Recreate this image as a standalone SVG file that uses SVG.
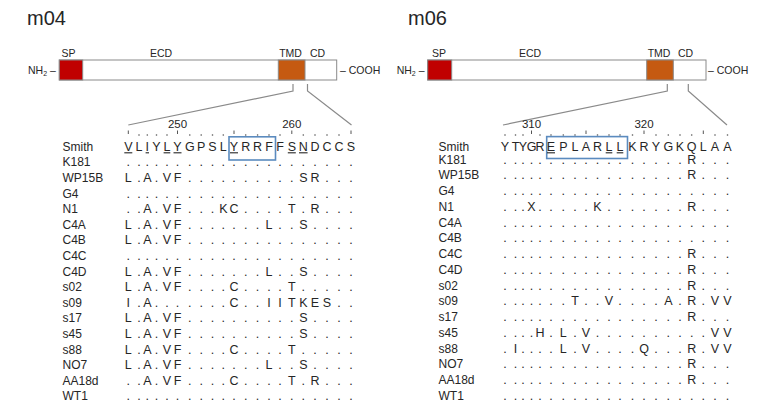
<svg xmlns="http://www.w3.org/2000/svg" width="760" height="412" viewBox="0 0 760 412">
<style>
.t{font-family:"Liberation Sans",Arial,sans-serif;fill:#262626}
.title{font-size:20px}
.dom{font-size:10.5px;text-anchor:middle}
.end{font-size:10.5px}
.lab{font-size:12px}
.num{font-size:11.5px;text-anchor:middle}
.seq{font-size:12.5px;text-anchor:middle}
.conn{stroke:#8a8a8a;stroke-width:1.2;fill:none}
.bar{fill:#ffffff;stroke:#8a8a8a;stroke-width:1}
.sp{fill:#c00000;stroke:#8a8a8a;stroke-width:1}
.tmd{fill:#c55a11;stroke:#8a8a8a;stroke-width:1}
.tick{stroke:#555555;stroke-width:1}
.rd{fill:#555555}
.ul{stroke:#262626;stroke-width:1.1}
.box{fill:none;stroke:#5b8bbf;stroke-width:1.6}
</style>
<rect width="760" height="412" fill="#ffffff"/>

<!-- ===== Panel m04 ===== -->
<g id="m04">
  <text class="t title" x="27" y="25">m04</text>
  <g id="m04-protein">
    <rect class="bar" x="59.3" y="60" width="277.4" height="20"/>
    <rect class="sp" x="59.3" y="60" width="23.4" height="20"/>
    <rect class="tmd" x="278.3" y="60" width="26.7" height="20"/>
    <text class="t dom" x="68.5" y="57">SP</text>
    <text class="t dom" x="161" y="57">ECD</text>
    <text class="t dom" x="290.5" y="57">TMD</text>
    <text class="t dom" x="317.5" y="57">CD</text>
    <text class="t end" x="28" y="74">NH<tspan font-size="7" dy="2">2</tspan><tspan dy="-2"> –</tspan></text>
    <text class="t end" x="340" y="74">– COOH</text>
  </g>
  <g id="m04-connectors">
    <polyline class="conn" points="293,84 293,91 128.3,125"/>
    <polyline class="conn" points="307.5,84 307.5,91 351.5,125"/>
  </g>
  <g id="m04-ruler">
    <text class="t num" x="177.5" y="128">250</text>
    <text class="t num" x="291.8" y="128">260</text>
    <g class="tick">
      <line x1="128.3" y1="130.5" x2="128.3" y2="134"/>
      <line x1="177.5" y1="130.5" x2="177.5" y2="134"/>
      <line x1="234" y1="130.5" x2="234" y2="134"/>
      <line x1="291.8" y1="130.5" x2="291.8" y2="134"/>
      <line x1="351" y1="130.5" x2="351" y2="134"/>
    </g>
    <g class="rd">
      <circle cx="139" cy="135" r="0.8"/><circle cx="147.3" cy="135" r="0.8"/><circle cx="156.5" cy="135" r="0.8"/><circle cx="167" cy="135" r="0.8"/>
      <circle cx="189.8" cy="135" r="0.8"/><circle cx="201.2" cy="135" r="0.8"/><circle cx="212.5" cy="135" r="0.8"/><circle cx="223.3" cy="135" r="0.8"/>
      <circle cx="245.7" cy="135" r="0.8"/><circle cx="257.6" cy="135" r="0.8"/><circle cx="269" cy="135" r="0.8"/><circle cx="280" cy="135" r="0.8"/>
      <circle cx="303.3" cy="135" r="0.8"/><circle cx="315" cy="135" r="0.8"/><circle cx="327" cy="135" r="0.8"/><circle cx="339" cy="135" r="0.8"/>
    </g>
  </g>
  <g id="m04-alignment">
    <rect class="box" x="229" y="136.8" width="46.5" height="23.2"/>
    <g class="ul">
      <line x1="124.3" y1="152.8" x2="132.3" y2="152.8"/>
      <line x1="145.6" y1="152.8" x2="149" y2="152.8"/>
      <line x1="163.6" y1="152.8" x2="170.3" y2="152.8"/>
      <line x1="173.5" y1="152.8" x2="181.5" y2="152.8"/>
      <line x1="230" y1="152.8" x2="238" y2="152.8"/>
      <line x1="287.8" y1="152.8" x2="295.8" y2="152.8"/>
      <line x1="299" y1="152.8" x2="307.6" y2="152.8"/>
    </g>
    <g class="t lab">
      <text x="62.5" y="151">Smith</text>
      <text x="62.5" y="166.3">K181</text>
      <text x="62.5" y="181.9">WP15B</text>
      <text x="62.5" y="197.5">G4</text>
      <text x="62.5" y="213.1">N1</text>
      <text x="62.5" y="228.7">C4A</text>
      <text x="62.5" y="244.3">C4B</text>
      <text x="62.5" y="259.9">C4C</text>
      <text x="62.5" y="275.5">C4D</text>
      <text x="62.5" y="291.1">s02</text>
      <text x="62.5" y="306.7">s09</text>
      <text x="62.5" y="322.3">s17</text>
      <text x="62.5" y="337.9">s45</text>
      <text x="62.5" y="353.5">s88</text>
      <text x="62.5" y="369.1">NO7</text>
      <text x="62.5" y="384.7">AA18d</text>
      <text x="62.5" y="400.3">WT1</text>
    </g>
    <g class="t seq">
      <text y="151" x="128.3 133.7 139 143.2 147.3 151.9 156.5 161.8 167 172.3 177.5 183.7 189.8 195.5 201.2 206.9 212.5 217.9 223.3 228.7 234 239.9 245.7 251.7 257.6 263.3 269 274.5 280 285.9 291.8 297.6 303.3 309.2 315 321 327 333 339 345 351">V L I Y L Y G P S L Y R R F F S N D C C S</text>
      <text y="166.3" x="128.3 133.7 139 143.2 147.3 151.9 156.5 161.8 167 172.3 177.5 183.7 189.8 195.5 201.2 206.9 212.5 217.9 223.3 228.7 234 239.9 245.7 251.7 257.6 263.3 269 274.5 280 285.9 291.8 297.6 303.3 309.2 315 321 327 333 339 345 351">. . . . . . . . . . . . . . . . . . . . .</text>
      <text y="181.9" x="128.3 133.7 139 143.2 147.3 151.9 156.5 161.8 167 172.3 177.5 183.7 189.8 195.5 201.2 206.9 212.5 217.9 223.3 228.7 234 239.9 245.7 251.7 257.6 263.3 269 274.5 280 285.9 291.8 297.6 303.3 309.2 315 321 327 333 339 345 351">L . A . V F . . . . . . . . . . S R . . .</text>
      <text y="197.5" x="128.3 133.7 139 143.2 147.3 151.9 156.5 161.8 167 172.3 177.5 183.7 189.8 195.5 201.2 206.9 212.5 217.9 223.3 228.7 234 239.9 245.7 251.7 257.6 263.3 269 274.5 280 285.9 291.8 297.6 303.3 309.2 315 321 327 333 339 345 351">. . . . . . . . . . . . . . . . . . . . .</text>
      <text y="213.1" x="128.3 133.7 139 143.2 147.3 151.9 156.5 161.8 167 172.3 177.5 183.7 189.8 195.5 201.2 206.9 212.5 217.9 223.3 228.7 234 239.9 245.7 251.7 257.6 263.3 269 274.5 280 285.9 291.8 297.6 303.3 309.2 315 321 327 333 339 345 351">. . A . V F . . . K C . . . . T . R . . .</text>
      <text y="228.7" x="128.3 133.7 139 143.2 147.3 151.9 156.5 161.8 167 172.3 177.5 183.7 189.8 195.5 201.2 206.9 212.5 217.9 223.3 228.7 234 239.9 245.7 251.7 257.6 263.3 269 274.5 280 285.9 291.8 297.6 303.3 309.2 315 321 327 333 339 345 351">L . A . V F . . . . . . . L . . S . . . .</text>
      <text y="244.3" x="128.3 133.7 139 143.2 147.3 151.9 156.5 161.8 167 172.3 177.5 183.7 189.8 195.5 201.2 206.9 212.5 217.9 223.3 228.7 234 239.9 245.7 251.7 257.6 263.3 269 274.5 280 285.9 291.8 297.6 303.3 309.2 315 321 327 333 339 345 351">L . A . V F . . . . . . . . . . . . . . .</text>
      <text y="259.9" x="128.3 133.7 139 143.2 147.3 151.9 156.5 161.8 167 172.3 177.5 183.7 189.8 195.5 201.2 206.9 212.5 217.9 223.3 228.7 234 239.9 245.7 251.7 257.6 263.3 269 274.5 280 285.9 291.8 297.6 303.3 309.2 315 321 327 333 339 345 351">. . . . . . . . . . . . . . . . . . . . .</text>
      <text y="275.5" x="128.3 133.7 139 143.2 147.3 151.9 156.5 161.8 167 172.3 177.5 183.7 189.8 195.5 201.2 206.9 212.5 217.9 223.3 228.7 234 239.9 245.7 251.7 257.6 263.3 269 274.5 280 285.9 291.8 297.6 303.3 309.2 315 321 327 333 339 345 351">L . A . V F . . . . . . . L . . S . . . .</text>
      <text y="291.1" x="128.3 133.7 139 143.2 147.3 151.9 156.5 161.8 167 172.3 177.5 183.7 189.8 195.5 201.2 206.9 212.5 217.9 223.3 228.7 234 239.9 245.7 251.7 257.6 263.3 269 274.5 280 285.9 291.8 297.6 303.3 309.2 315 321 327 333 339 345 351">L . A . V F . . . . C . . . . T . . . . .</text>
      <text y="306.7" x="128.3 133.7 139 143.2 147.3 151.9 156.5 161.8 167 172.3 177.5 183.7 189.8 195.5 201.2 206.9 212.5 217.9 223.3 228.7 234 239.9 245.7 251.7 257.6 263.3 269 274.5 280 285.9 291.8 297.6 303.3 309.2 315 321 327 333 339 345 351">I . A . . . . . . . C . . I I T K E S . .</text>
      <text y="322.3" x="128.3 133.7 139 143.2 147.3 151.9 156.5 161.8 167 172.3 177.5 183.7 189.8 195.5 201.2 206.9 212.5 217.9 223.3 228.7 234 239.9 245.7 251.7 257.6 263.3 269 274.5 280 285.9 291.8 297.6 303.3 309.2 315 321 327 333 339 345 351">L . A . V F . . . . . . . . . . S . . . .</text>
      <text y="337.9" x="128.3 133.7 139 143.2 147.3 151.9 156.5 161.8 167 172.3 177.5 183.7 189.8 195.5 201.2 206.9 212.5 217.9 223.3 228.7 234 239.9 245.7 251.7 257.6 263.3 269 274.5 280 285.9 291.8 297.6 303.3 309.2 315 321 327 333 339 345 351">L . A . V F . . . . . . . . . . S . . . .</text>
      <text y="353.5" x="128.3 133.7 139 143.2 147.3 151.9 156.5 161.8 167 172.3 177.5 183.7 189.8 195.5 201.2 206.9 212.5 217.9 223.3 228.7 234 239.9 245.7 251.7 257.6 263.3 269 274.5 280 285.9 291.8 297.6 303.3 309.2 315 321 327 333 339 345 351">L . A . V F . . . . C . . . . T . . . . .</text>
      <text y="369.1" x="128.3 133.7 139 143.2 147.3 151.9 156.5 161.8 167 172.3 177.5 183.7 189.8 195.5 201.2 206.9 212.5 217.9 223.3 228.7 234 239.9 245.7 251.7 257.6 263.3 269 274.5 280 285.9 291.8 297.6 303.3 309.2 315 321 327 333 339 345 351">L . A . V F . . . . . . . L . . S . . . .</text>
      <text y="384.7" x="128.3 133.7 139 143.2 147.3 151.9 156.5 161.8 167 172.3 177.5 183.7 189.8 195.5 201.2 206.9 212.5 217.9 223.3 228.7 234 239.9 245.7 251.7 257.6 263.3 269 274.5 280 285.9 291.8 297.6 303.3 309.2 315 321 327 333 339 345 351">. . A . V F . . . . C . . . . T . R . . .</text>
      <text y="400.3" x="128.3 133.7 139 143.2 147.3 151.9 156.5 161.8 167 172.3 177.5 183.7 189.8 195.5 201.2 206.9 212.5 217.9 223.3 228.7 234 239.9 245.7 251.7 257.6 263.3 269 274.5 280 285.9 291.8 297.6 303.3 309.2 315 321 327 333 339 345 351">. . . . . . . . . . . . . . . . . . . . .</text>
    </g>
  </g>
</g>

<!-- ===== Panel m06 ===== -->
<g id="m06">
  <text class="t title" x="408" y="25">m06</text>
  <g id="m06-protein">
    <rect class="bar" x="427.7" y="60" width="278.3" height="20"/>
    <rect class="sp" x="427.7" y="60" width="24" height="20"/>
    <rect class="tmd" x="646.7" y="60" width="26.6" height="20"/>
    <text class="t dom" x="439" y="57">SP</text>
    <text class="t dom" x="530" y="57">ECD</text>
    <text class="t dom" x="659" y="57">TMD</text>
    <text class="t dom" x="685.5" y="57">CD</text>
    <text class="t end" x="396.7" y="74">NH<tspan font-size="7" dy="2">2</tspan><tspan dy="-2"> –</tspan></text>
    <text class="t end" x="708" y="74">– COOH</text>
  </g>
  <g id="m06-connectors">
    <polyline class="conn" points="667.3,84 667.3,91 503,125"/>
    <polyline class="conn" points="688.3,84 688.3,91 727,125"/>
  </g>
  <g id="m06-ruler">
    <text class="t num" x="531.5" y="128">310</text>
    <text class="t num" x="644" y="128">320</text>
    <g class="tick">
      <line x1="531.5" y1="130.5" x2="531.5" y2="134"/>
      <line x1="586" y1="130.5" x2="586" y2="134"/>
      <line x1="644" y1="130.5" x2="644" y2="134"/>
      <line x1="703.3" y1="130.5" x2="703.3" y2="134"/>
    </g>
    <g class="rd">
      <circle cx="505" cy="135" r="0.8"/><circle cx="515.5" cy="135" r="0.8"/><circle cx="523" cy="135" r="0.8"/>
      <circle cx="540" cy="135" r="0.8"/><circle cx="551" cy="135" r="0.8"/><circle cx="563.3" cy="135" r="0.8"/><circle cx="575" cy="135" r="0.8"/>
      <circle cx="597.5" cy="135" r="0.8"/><circle cx="609" cy="135" r="0.8"/><circle cx="620" cy="135" r="0.8"/><circle cx="632.5" cy="135" r="0.8"/>
      <circle cx="656" cy="135" r="0.8"/><circle cx="668.3" cy="135" r="0.8"/><circle cx="680" cy="135" r="0.8"/><circle cx="691.7" cy="135" r="0.8"/>
      <circle cx="715" cy="135" r="0.8"/><circle cx="727.5" cy="135" r="0.8"/>
    </g>
  </g>
  <g id="m06-alignment">
    <rect class="box" x="546.7" y="136.6" width="80.8" height="21.9"/>
    <g class="ul">
      <line x1="547" y1="152.8" x2="555" y2="152.8"/>
      <line x1="605.7" y1="152.8" x2="612.3" y2="152.8"/>
      <line x1="616.7" y1="152.8" x2="623.3" y2="152.8"/>
    </g>
    <g class="t lab">
      <text x="438.5" y="151">Smith</text>
      <text x="438.5" y="163.6">K181</text>
      <text x="438.5" y="179.4">WP15B</text>
      <text x="438.5" y="195.1">G4</text>
      <text x="438.5" y="210.9">N1</text>
      <text x="438.5" y="226.6">C4A</text>
      <text x="438.5" y="242.4">C4B</text>
      <text x="438.5" y="258.1">C4C</text>
      <text x="438.5" y="273.9">C4D</text>
      <text x="438.5" y="289.6">s02</text>
      <text x="438.5" y="305.4">s09</text>
      <text x="438.5" y="321.1">s17</text>
      <text x="438.5" y="336.9">s45</text>
      <text x="438.5" y="352.6">s88</text>
      <text x="438.5" y="368.4">NO7</text>
      <text x="438.5" y="384.1">AA18d</text>
      <text x="438.5" y="399.9">WT1</text>
    </g>
    <g class="t seq">
      <text y="151" x="505 510.3 515.5 519.3 523 527.3 531.5 535.8 540 545.5 551 557.2 563.3 569.2 575 580.5 586 591.8 597.5 603.3 609 614.5 620 626.3 632.5 638.3 644 650 656 662.2 668.3 674.2 680 685.9 691.7 697.5 703.3 709.2 715 721.3 727.5">Y T Y G R E P L A R L L K R Y G K Q L A A</text>
      <text y="163.6" x="505 510.3 515.5 519.3 523 527.3 531.5 535.8 540 545.5 551 557.2 563.3 569.2 575 580.5 586 591.8 597.5 603.3 609 614.5 620 626.3 632.5 638.3 644 650 656 662.2 668.3 674.2 680 685.9 691.7 697.5 703.3 709.2 715 721.3 727.5">. . . . . . . . . . . . . . . . . R . . .</text>
      <text y="179.4" x="505 510.3 515.5 519.3 523 527.3 531.5 535.8 540 545.5 551 557.2 563.3 569.2 575 580.5 586 591.8 597.5 603.3 609 614.5 620 626.3 632.5 638.3 644 650 656 662.2 668.3 674.2 680 685.9 691.7 697.5 703.3 709.2 715 721.3 727.5">. . . . . . . . . . . . . . . . . R . . .</text>
      <text y="195.1" x="505 510.3 515.5 519.3 523 527.3 531.5 535.8 540 545.5 551 557.2 563.3 569.2 575 580.5 586 591.8 597.5 603.3 609 614.5 620 626.3 632.5 638.3 644 650 656 662.2 668.3 674.2 680 685.9 691.7 697.5 703.3 709.2 715 721.3 727.5">. . . . . . . . . . . . . . . . . . . . .</text>
      <text y="210.9" x="505 510.3 515.5 519.3 523 527.3 531.5 535.8 540 545.5 551 557.2 563.3 569.2 575 580.5 586 591.8 597.5 603.3 609 614.5 620 626.3 632.5 638.3 644 650 656 662.2 668.3 674.2 680 685.9 691.7 697.5 703.3 709.2 715 721.3 727.5">. . . X . . . . . K . . . . . . . R . . .</text>
      <text y="226.6" x="505 510.3 515.5 519.3 523 527.3 531.5 535.8 540 545.5 551 557.2 563.3 569.2 575 580.5 586 591.8 597.5 603.3 609 614.5 620 626.3 632.5 638.3 644 650 656 662.2 668.3 674.2 680 685.9 691.7 697.5 703.3 709.2 715 721.3 727.5">. . . . . . . . . . . . . . . . . . . . .</text>
      <text y="242.4" x="505 510.3 515.5 519.3 523 527.3 531.5 535.8 540 545.5 551 557.2 563.3 569.2 575 580.5 586 591.8 597.5 603.3 609 614.5 620 626.3 632.5 638.3 644 650 656 662.2 668.3 674.2 680 685.9 691.7 697.5 703.3 709.2 715 721.3 727.5">. . . . . . . . . . . . . . . . . . . . .</text>
      <text y="258.1" x="505 510.3 515.5 519.3 523 527.3 531.5 535.8 540 545.5 551 557.2 563.3 569.2 575 580.5 586 591.8 597.5 603.3 609 614.5 620 626.3 632.5 638.3 644 650 656 662.2 668.3 674.2 680 685.9 691.7 697.5 703.3 709.2 715 721.3 727.5">. . . . . . . . . . . . . . . . . R . . .</text>
      <text y="273.9" x="505 510.3 515.5 519.3 523 527.3 531.5 535.8 540 545.5 551 557.2 563.3 569.2 575 580.5 586 591.8 597.5 603.3 609 614.5 620 626.3 632.5 638.3 644 650 656 662.2 668.3 674.2 680 685.9 691.7 697.5 703.3 709.2 715 721.3 727.5">. . . . . . . . . . . . . . . . . R . . .</text>
      <text y="289.6" x="505 510.3 515.5 519.3 523 527.3 531.5 535.8 540 545.5 551 557.2 563.3 569.2 575 580.5 586 591.8 597.5 603.3 609 614.5 620 626.3 632.5 638.3 644 650 656 662.2 668.3 674.2 680 685.9 691.7 697.5 703.3 709.2 715 721.3 727.5">. . . . . . . . . . . . . . . . . R . . .</text>
      <text y="305.4" x="505 510.3 515.5 519.3 523 527.3 531.5 535.8 540 545.5 551 557.2 563.3 569.2 575 580.5 586 591.8 597.5 603.3 609 614.5 620 626.3 632.5 638.3 644 650 656 662.2 668.3 674.2 680 685.9 691.7 697.5 703.3 709.2 715 721.3 727.5">. . . . . . . T . . V . . . . A . R . V V</text>
      <text y="321.1" x="505 510.3 515.5 519.3 523 527.3 531.5 535.8 540 545.5 551 557.2 563.3 569.2 575 580.5 586 591.8 597.5 603.3 609 614.5 620 626.3 632.5 638.3 644 650 656 662.2 668.3 674.2 680 685.9 691.7 697.5 703.3 709.2 715 721.3 727.5">. . . . . . . . . . . . . . . . . R . . .</text>
      <text y="336.9" x="505 510.3 515.5 519.3 523 527.3 531.5 535.8 540 545.5 551 557.2 563.3 569.2 575 580.5 586 591.8 597.5 603.3 609 614.5 620 626.3 632.5 638.3 644 650 656 662.2 668.3 674.2 680 685.9 691.7 697.5 703.3 709.2 715 721.3 727.5">. . . . H . L . V . . . . . . . . . . V V</text>
      <text y="352.6" x="505 510.3 515.5 519.3 523 527.3 531.5 535.8 540 545.5 551 557.2 563.3 569.2 575 580.5 586 591.8 597.5 603.3 609 614.5 620 626.3 632.5 638.3 644 650 656 662.2 668.3 674.2 680 685.9 691.7 697.5 703.3 709.2 715 721.3 727.5">. I . . . . L . V . . . . Q . . . R . V V</text>
      <text y="368.4" x="505 510.3 515.5 519.3 523 527.3 531.5 535.8 540 545.5 551 557.2 563.3 569.2 575 580.5 586 591.8 597.5 603.3 609 614.5 620 626.3 632.5 638.3 644 650 656 662.2 668.3 674.2 680 685.9 691.7 697.5 703.3 709.2 715 721.3 727.5">. . . . . . . . . . . . . . . . . R . . .</text>
      <text y="384.1" x="505 510.3 515.5 519.3 523 527.3 531.5 535.8 540 545.5 551 557.2 563.3 569.2 575 580.5 586 591.8 597.5 603.3 609 614.5 620 626.3 632.5 638.3 644 650 656 662.2 668.3 674.2 680 685.9 691.7 697.5 703.3 709.2 715 721.3 727.5">. . . . . . . . . . . . . . . . . R . . .</text>
      <text y="399.9" x="505 510.3 515.5 519.3 523 527.3 531.5 535.8 540 545.5 551 557.2 563.3 569.2 575 580.5 586 591.8 597.5 603.3 609 614.5 620 626.3 632.5 638.3 644 650 656 662.2 668.3 674.2 680 685.9 691.7 697.5 703.3 709.2 715 721.3 727.5">. . . . . . . . . . . . . . . . . . . . .</text>
    </g>
  </g>
</g>
</svg>
